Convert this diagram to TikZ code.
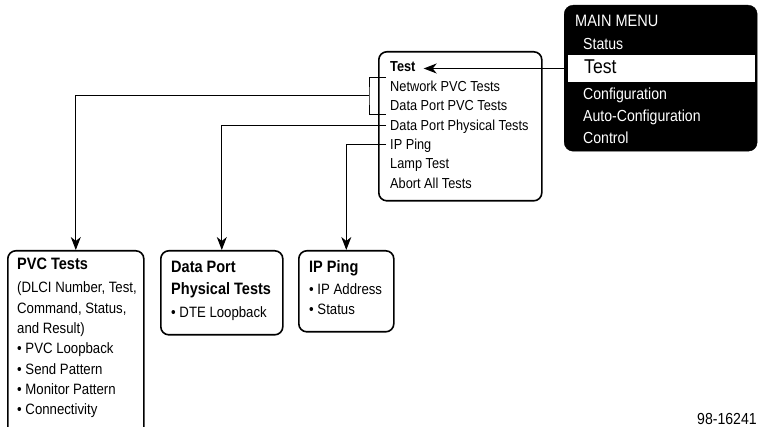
\documentclass[tikz,border=0pt]{standalone}
\usepackage{fontspec}
\setmainfont[FakeStretch=0.88]{Liberation Sans}
\usetikzlibrary{positioning, arrows.meta}

\begin{document}
\begin{tikzpicture}[x=1pt, y=-1pt,
    box/.style={draw, line width=1.6pt, rounded corners=8pt, anchor=north west, inner sep=0pt},
    menubox/.style={draw, fill=black, rounded corners=9pt, anchor=north west, inner sep=0pt},
    item/.style={anchor=base west, inner xsep=4pt, inner ysep=0pt, text height=10pt, text depth=0pt, font=\fontsize{14.5}{17}\selectfont},
    head/.style={item, font=\fontsize{14.5}{17}\selectfont\bfseries},
    menuitem/.style={anchor=base west, inner sep=0pt, text=white, font=\fontsize{16}{19}\selectfont},
    cardhead/.style={anchor=base west, inner sep=0pt, font=\fontsize{16.5}{19}\selectfont\bfseries},
    carditem/.style={anchor=base west, inner sep=0pt, font=\fontsize{15}{18}\selectfont},
    wire/.style={line width=1pt},
    link/.style={wire, -{Stealth[length=13pt, width=10pt, inset=4pt]}}
]
\useasboundingbox (0,0) rectangle (758,427);

% main menu
\node[menubox, minimum width=193pt, minimum height=146pt] (menu) at (564,5) {};
\node[menuitem, font=\fontsize{16.5}{19}\selectfont] (mhead) at (575,27) {MAIN MENU};
\node[menuitem] (mstatus) at (583,50) {Status};
\node[fill=white, anchor=west, minimum width=187pt, minimum height=27pt, inner xsep=16pt, inner ysep=0pt,
      text width=155pt, text height=14.5pt, text depth=5pt, font=\fontsize{20}{24}\selectfont] (mtest) at (568,68.5) {Test};
\node[menuitem] (mconf) at (583,100) {Configuration};
\node[menuitem] (mauto) at (583,122) {Auto-Configuration};
\node[menuitem] (mctrl) at (583,144) {Control};

% test menu
\node[box, minimum width=163pt, minimum height=149pt] (testbox) at (378,51) {};
\node[head] (ttitle) at (386,72) {Test};
\node[item, below=19.4pt of ttitle.base west, anchor=base west] (npvc) {Network PVC Tests};
\node[item, below=19.4pt of npvc.base west, anchor=base west] (dpvc) {Data Port PVC Tests};
\node[item, below=19.4pt of dpvc.base west, anchor=base west] (dphys) {Data Port Physical Tests};
\node[item, below=19.4pt of dphys.base west, anchor=base west] (ipping) {IP Ping};
\node[item, below=19.4pt of ipping.base west, anchor=base west] (lamp) {Lamp Test};
\node[item, below=19.4pt of lamp.base west, anchor=base west] (abort) {Abort All Tests};

% result screens
\node[box, minimum width=136pt, minimum height=200pt] (pvcbox) at (7,250) {};
\node[box, minimum width=122pt, minimum height=84pt] (dpbox) at (160,250) {};
\node[box, minimum width=95pt, minimum height=81pt] (ipbox) at (298,250) {};

\node[cardhead] (pvchead) at (17,270) {PVC Tests};
\node[carditem, below=23pt of pvchead.base west, anchor=base west] (pvc1) {(DLCI Number, Test,};
\node[carditem, below=20.3pt of pvc1.base west, anchor=base west] (pvc2) {Command, Status,};
\node[carditem, below=20.3pt of pvc2.base west, anchor=base west] (pvc3) {and Result)};
\node[carditem, below=20.3pt of pvc3.base west, anchor=base west] (pvc4) {• PVC Loopback};
\node[carditem, below=20.3pt of pvc4.base west, anchor=base west] (pvc5) {• Send Pattern};
\node[carditem, below=20.3pt of pvc5.base west, anchor=base west] (pvc6) {• Monitor Pattern};
\node[carditem, below=20.3pt of pvc6.base west, anchor=base west] (pvc7) {• Connectivity};

\node[cardhead] (dphead) at (171,273) {Data Port};
\node[cardhead, below=22pt of dphead.base west, anchor=base west] (dphead2) {Physical Tests};
\node[carditem, below=23pt of dphead2.base west, anchor=base west] (dp1) {• DTE Loopback};

\node[cardhead] (iphead) at (309,273) {IP Ping};
\node[carditem, below=22pt of iphead.base west, anchor=base west] (ip1) {• IP Address};
\node[carditem, below=20pt of ip1.base west, anchor=base west] (ip2) {• Status};

\node[anchor=base west, inner sep=0pt, font=\fontsize{16}{19}\selectfont] (fignum) at (697,425) {98-16241};

% connectors
\draw[link] (mtest.west) -- ([xshift=4pt]mtest.west -| ttitle.east);
\coordinate (brk) at (369,96);
\draw[wire] ([yshift=9pt]npvc.west) -| (brk) |- ([yshift=-9pt]dpvc.west);
\draw[link] (brk) -| (pvcbox.north);
\draw[link] (dphys.west) -| (dpbox.north);
\draw[link] (ipping.west) -| (ipbox.north);
\end{tikzpicture}
\end{document}
